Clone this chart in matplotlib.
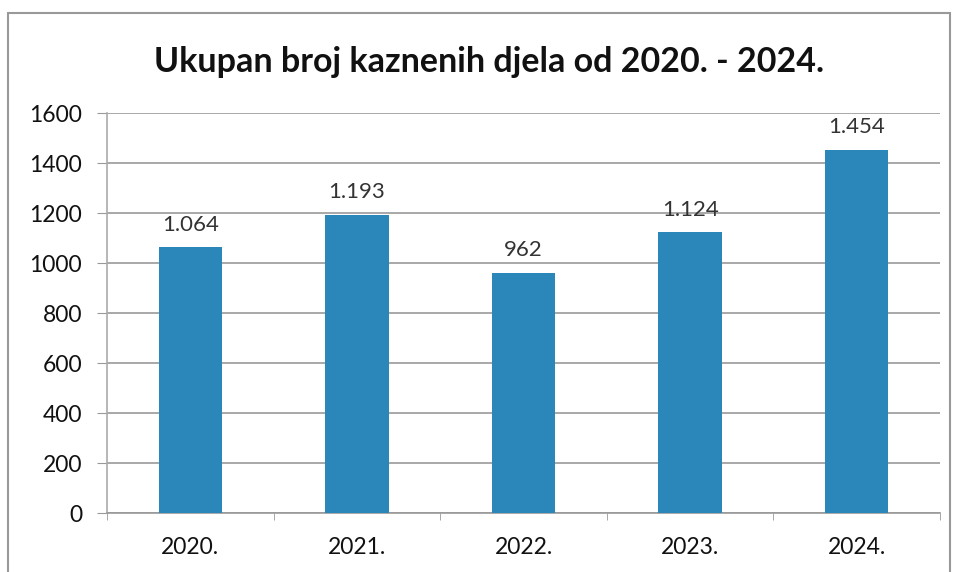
import matplotlib
matplotlib.use("Agg")
import matplotlib.pyplot as plt
from matplotlib.patches import Rectangle

categories = ["2020.", "2021.", "2022.", "2023.", "2024."]
values = [1064, 1193, 962, 1124, 1454]
value_labels = ["1.064", "1.193", "962", "1.124", "1.454"]
yticks = [0, 200, 400, 600, 800, 1000, 1200, 1400, 1600]
title = "Ukupan broj kaznenih djela od 2020. - 2024."

plt.rcParams['font.family'] = ['Lato', 'DejaVu Sans']

fig = plt.figure(figsize=(9.58, 5.72), dpi=100)
W, H = 958, 572
ax = fig.add_axes([107 / W, 1 - 513 / H, (940 - 107) / W, (513 - 113) / H])

x = list(range(len(categories)))
bars = ax.bar(x, values, width=0.38, color="#2b87ba", zorder=3)
for xi, v, lab in zip(x, values, value_labels):
    ax.annotate(lab, (xi, v), xytext=(0, 9), textcoords="offset points",
                ha="center", va="bottom", fontsize=16, color="#333333")

ax.set_xlim(-0.5, len(categories) - 0.5)
ax.set_ylim(0, 1600)
ax.set_yticks(yticks)
ax.set_yticklabels([str(t) for t in yticks], fontsize=16.5, color="#111111")
ax.set_xticks(x)
ax.set_xticklabels(categories, fontsize=16.5, color="#111111")
ax.tick_params(axis="x", length=0, pad=17)
ax.tick_params(axis="y", length=7, color="#999999", pad=11, direction="out")
# category boundary ticks
ax.set_xticks([i - 0.5 for i in range(len(categories) + 1)], minor=True)
ax.tick_params(axis="x", which="minor", length=5, color="#999999", direction="out")
ax.grid(axis="y", color="#999999", linewidth=1.2, zorder=0)
for s in ["top", "right"]:
    ax.spines[s].set_visible(False)
ax.spines["left"].set_color("#aaaaaa")
ax.spines["bottom"].set_color("#999999")
ax.spines["left"].set_linewidth(1.2)
ax.spines["bottom"].set_linewidth(1.2)

fig.text(489 / W, 1 - 62 / H, title, ha="center", va="center",
         fontsize=24.5, fontweight="bold", color="#111111")

# outer frame of chart
fig.add_artist(Rectangle((8 / W, -0.01), (950 - 8) / W, 1 - 13 / H + 0.01,
                         transform=fig.transFigure, fill=False,
                         edgecolor="#999999", linewidth=1.5))

fig.savefig("out.png", dpi=100)
